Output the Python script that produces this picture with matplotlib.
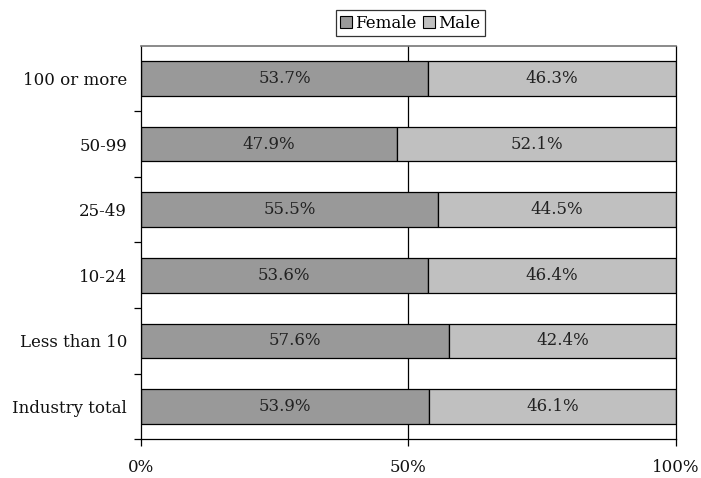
import matplotlib
matplotlib.use("Agg")
import matplotlib.pyplot as plt
import numpy as np

categories = ["Industry total", "Less than 10", "10-24", "25-49", "50-99", "100 or more"]
female = [53.9, 57.6, 53.6, 55.5, 47.9, 53.7]
male = [46.1, 42.4, 46.4, 44.5, 52.1, 46.3]
x_ticks = [0, 50, 100]
x_tick_labels = ["0%", "50%", "100%"]

plt.rcParams["font.family"] = ["DejaVu Serif"]
plt.rcParams["font.size"] = 12

fig = plt.figure(figsize=(7.01, 4.78), dpi=100)
ax = fig.add_axes([0.2011, 0.081, 0.9643 - 0.2011, 0.9044 - 0.081])

y = np.arange(len(categories))
h = 0.53
c_f = "#999999"
c_m = "#c0c0c0"

ax.axvline(50, color="black", lw=0.9, zorder=1)

bf = ax.barh(y, female, height=h, color=c_f, edgecolor="black", linewidth=0.9, label="Female", zorder=2)
bm = ax.barh(y, male, left=female, height=h, color=c_m, edgecolor="black", linewidth=0.9, label="Male", zorder=2)

for yi, f, m in zip(y, female, male):
    ax.text(f / 2, yi, f"{f:.1f}%", ha="center", va="center", color="#222222", zorder=3)
    ax.text(f + m / 2, yi, f"{m:.1f}%", ha="center", va="center", color="#222222", zorder=3)

ax.set_xlim(0, 100)
ax.set_ylim(-0.5, len(categories) - 0.5)
ax.set_xticks(x_ticks)
ax.set_xticklabels(x_tick_labels)
ax.set_yticks(y)
ax.set_yticklabels(categories)
ax.set_yticks(np.arange(-0.5, len(categories) - 1, 1.0), minor=True)

ax.tick_params(axis="y", which="major", length=0, pad=10, labelcolor="#111111")
ax.tick_params(axis="y", which="minor", length=5, width=0.9, direction="out", color="black")
ax.tick_params(axis="x", which="major", length=5, width=0.9, direction="out", pad=9, labelcolor="#111111")

for s in ["left", "bottom", "right"]:
    ax.spines[s].set_color("black")
    ax.spines[s].set_linewidth(0.9)
ax.spines["top"].set_color("#777777")
ax.spines["top"].set_linewidth(1.2)

leg = fig.legend(handles=[bf, bm], labels=["Female", "Male"], loc="center",
                 bbox_to_anchor=(410.5 / 701, 1 - 23 / 478), ncol=2, frameon=True,
                 fancybox=False, edgecolor="black", handlelength=0.7, handleheight=0.7,
                 handletextpad=0.2, columnspacing=0.4, borderpad=0.25, borderaxespad=0)
leg.get_frame().set_linewidth(0.9)
for p in leg.get_patches():
    p.set_linewidth(0.8)

fig.savefig("out.png", dpi=100)
